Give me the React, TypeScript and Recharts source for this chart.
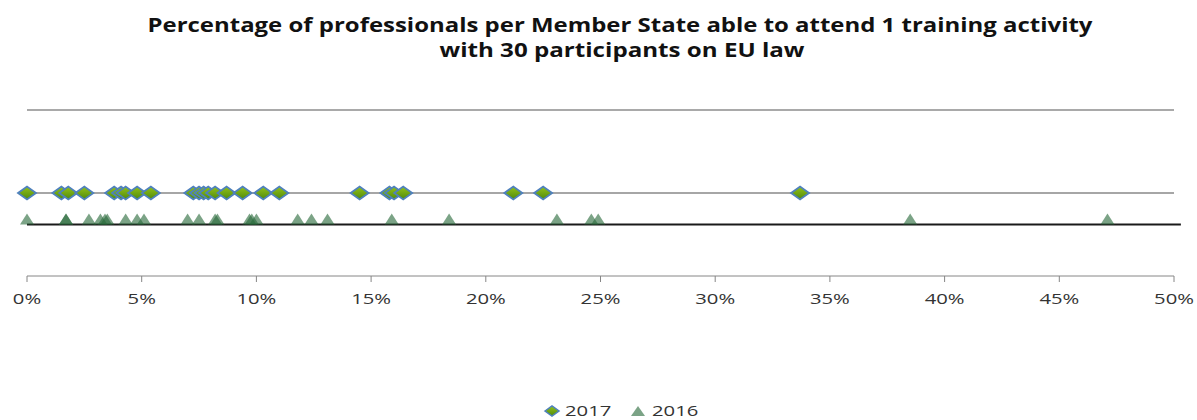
import { ScatterChart, Scatter, XAxis, YAxis, ReferenceLine, Legend } from "recharts";

const title1 = "Percentage of professionals per Member State able to attend 1 training activity";
const title2 = "with 30 participants on EU law";

const xTicks = [0, 5, 10, 15, 20, 25, 30, 35, 40, 45, 50];

// share of professionals (%) per Member State
const share2017 = [
  0, 1.5, 1.8, 2.5, 3.8, 4.1, 4.3, 4.8, 5.4, 7.25, 7.5, 7.7, 7.9, 8.2, 8.7, 9.4,
  10.3, 11.0, 14.5, 15.8, 16.0, 16.4, 21.2, 22.5, 33.7,
];
const share2016 = [
  0, 1.7, 1.7, 2.7, 3.2, 3.4, 3.5, 4.3, 4.8, 5.1, 7.0, 7.5, 8.2, 8.3, 9.7, 9.8,
  10.0, 11.8, 12.4, 13.1, 15.9, 18.4, 23.1, 24.6, 24.9, 38.5, 47.1,
];

const ROW_2017 = 5;
const ROW_2016 = 3.4;
const data2017 = share2017.map((x) => ({ x, y: ROW_2017 }));
const data2016 = share2016.map((x) => ({ x, y: ROW_2016 }));

const FONT = "'Open Sans', 'DejaVu Sans', sans-serif";

function Diamond(props: any) {
  const { cx, cy } = props;
  return (
    <polygon
      points={`${cx - 9},${cy} ${cx},${cy - 6.5} ${cx + 9},${cy} ${cx},${cy + 6.5}`}
      fill="url(#diamondFill)"
      stroke="#4f81bd"
      strokeWidth={1.8}
    />
  );
}

function Triangle(props: any) {
  const { cx, cy } = props;
  return (
    <polygon
      points={`${cx},${cy - 6} ${cx + 7},${cy + 5} ${cx - 7},${cy + 5}`}
      fill="#2a6b3c"
      fillOpacity={0.62}
    />
  );
}

function PercentTick(props: any) {
  const { x, y, payload } = props;
  return (
    <g transform={`translate(${x},${y + 20}) scale(1.35,1)`}>
      <text textAnchor="middle" fontFamily={FONT} fontSize={15} fill="#333">
        {`${payload.value}%`}
      </text>
    </g>
  );
}

function LegendContent() {
  return (
    <svg width={1197} height={22}>
      <defs>
        <linearGradient id="legendDiamond" x1="0" y1="0" x2="0" y2="1">
          <stop offset="0%" stopColor="#93c21a" />
          <stop offset="100%" stopColor="#4f8a0c" />
        </linearGradient>
      </defs>
      <polygon points="545,13 552,8 559,13 552,18" fill="url(#legendDiamond)" stroke="#4f81bd" strokeWidth={1.5} />
      <g transform="translate(565,18) scale(1.35,1)">
        <text fontFamily={FONT} fontSize={15} fill="#333">2017</text>
      </g>
      <polygon points="638,8 645,18 631,18" fill="#2a6b3c" fillOpacity={0.62} />
      <g transform="translate(652,18) scale(1.35,1)">
        <text fontFamily={FONT} fontSize={15} fill="#333">2016</text>
      </g>
    </svg>
  );
}

export default function App() {
  return (
    <div style={{ position: "absolute", left: 0, top: 0, width: 1197, height: 420, background: "#fff" }}>
      <svg width={1197} height={70} style={{ position: "absolute", left: 0, top: 0 }}>
        <text x={620} y={31.5} textAnchor="middle" fontFamily={FONT} fontWeight={700} fontSize={19}
          textLength={945} lengthAdjust="spacingAndGlyphs" fill="#111">
          {title1}
        </text>
        <text x={622} y={56.5} textAnchor="middle" fontFamily={FONT} fontWeight={700} fontSize={19}
          textLength={365} lengthAdjust="spacingAndGlyphs" fill="#111">
          {title2}
        </text>
      </svg>
      <ScatterChart width={1197} height={420} margin={{ top: 110, right: 23, bottom: 78, left: 27 }}>
        <defs>
          <linearGradient id="diamondFill" x1="0" y1="0" x2="0" y2="1">
            <stop offset="0%" stopColor="#93c21a" />
            <stop offset="100%" stopColor="#4f8a0c" />
          </linearGradient>
        </defs>
        <XAxis
          type="number"
          dataKey="x"
          domain={[0, 50]}
          ticks={xTicks}
          interval={0}
          height={40}
          stroke="#868686"
          tickSize={6}
          tick={<PercentTick />}
        />
        <YAxis type="number" dataKey="y" domain={[0, 10]} hide />
        <ReferenceLine y={10} stroke="#8c8c8c" strokeWidth={1.3} />
        <ReferenceLine y={ROW_2017} stroke="#a6a6a6" strokeWidth={2} />
        <ReferenceLine
          segment={[{ x: 0, y: 3.1 }, { x: 50.3, y: 3.1 }]}
          stroke="#1a1a1a"
          strokeWidth={2}
          ifOverflow="visible"
        />
        <Scatter name="2016" data={data2016} shape={<Triangle />} isAnimationActive={false} />
        <Scatter name="2017" data={data2017} shape={<Diamond />} isAnimationActive={false} />
        <Legend verticalAlign="bottom" content={<LegendContent />} wrapperStyle={{ left: 0, top: 398, width: 1197 }} />
      </ScatterChart>
    </div>
  );
}
